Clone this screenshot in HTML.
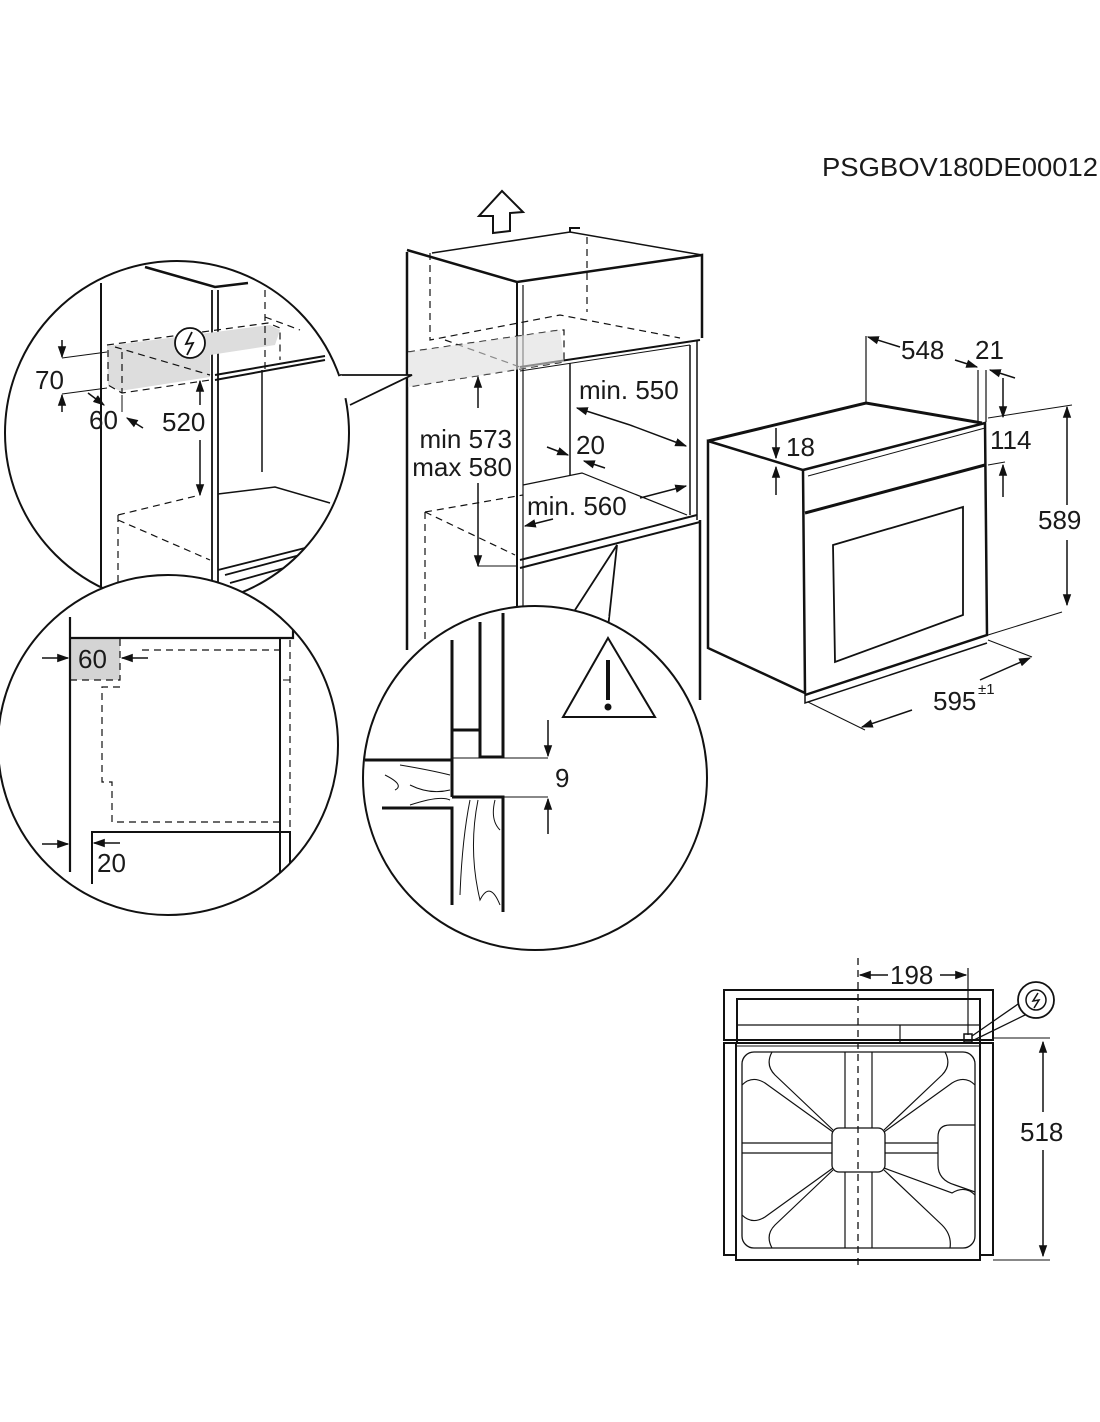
<!DOCTYPE html>
<html><head><meta charset="utf-8"><style>
html,body{margin:0;padding:0;background:#fff;}
svg{display:block;}
text{font-family:"Liberation Sans",sans-serif;fill:#1a1a1a;}
</style></head><body>
<svg width="1100" height="1422" viewBox="0 0 1100 1422" xmlns="http://www.w3.org/2000/svg">
<defs>
<marker id="ah" viewBox="0 0 10 10" refX="9" refY="5" markerWidth="8" markerHeight="8" orient="auto-start-reverse"><path d="M0,1.5 L10,5 L0,8.5z" fill="#111"/></marker>
<clipPath id="c1"><circle cx="177" cy="433" r="172"/></clipPath>
<clipPath id="c2"><circle cx="168" cy="745" r="170"/></clipPath>
<clipPath id="c3"><circle cx="535" cy="778" r="172"/></clipPath>
</defs>
<g stroke="#111" fill="none" stroke-width="1.5" font-size="26">
<text x="822" y="176" textLength="276" lengthAdjust="spacingAndGlyphs" stroke="none">PSGBOV180DE00012</text>
<!-- up arrow -->
<path d="M502,191 L523,212 L510,213 L510,231 L493,233 L493,216 L479,216z" stroke-width="2"/>
<!-- cabinet -->
<path d="M407,252 L407,650" stroke-width="2.5"/>
<path d="M407,250 L517,282 L702,255 L702,338" stroke-width="2.5"/>
<path d="M432,253 L570,232 L702,255" stroke-width="1.5"/>
<path d="M570,232 L570,228 L580,228" stroke-width="2"/>
<path d="M517,282 L517,650" stroke-width="2"/>
<path d="M523,285 L523,650" stroke-width="1.2"/>
<path d="M520,367 L700,340" stroke-width="2"/>
<path d="M520,371 L690,345" stroke-width="1"/>
<path d="M690,345 L690,515 M697,340 L697,520" stroke-width="1.5"/>
<path d="M570,363 L570,475" stroke-width="1.5"/>
<path d="M523,485 L582,473 L687,515" stroke-width="1.2"/>
<path d="M520,560 L697,515 M520,568 L700,522" stroke-width="2"/>
<path d="M700,520 L700,700" stroke-width="2.5"/>
<g stroke-dasharray="7,5" stroke-width="1.2">
<path d="M430,253 L430,340 L560,315 L680,338"/>
<path d="M587,237 L587,312"/>
<path d="M408,352 L560,330 L564,330 L564,362 L408,387"/>
<path d="M445,340 L520,367"/>
<path d="M425,512 L523,495"/>
<path d="M425,512 L425,640"/>
<path d="M425,512 L515,555"/>
</g>
<path d="M408,352 L560,330 L564,362 L408,387z" fill="#ddd" stroke="none" opacity="0.6"/>
<!-- cabinet dims -->
<line x1="478" y1="408" x2="478" y2="377" marker-end="url(#ah)"/>
<line x1="478" y1="483" x2="478" y2="566" marker-end="url(#ah)"/>
<path d="M478,566 L517,566" stroke-width="1"/>
<text x="512" y="448" text-anchor="end" stroke="none">min 573</text>
<text x="512" y="476" text-anchor="end" stroke="none">max 580</text>
<text x="579" y="399" stroke="none">min. 550</text>
<line x1="630" y1="425" x2="577" y2="408" marker-end="url(#ah)"/>
<line x1="630" y1="425" x2="686" y2="446" marker-end="url(#ah)"/>
<line x1="547" y1="447" x2="568" y2="455" marker-end="url(#ah)"/>
<line x1="605" y1="468" x2="584" y2="461" marker-end="url(#ah)"/>
<text x="576" y="454" stroke="none">20</text>
<text x="527" y="515" stroke="none">min. 560</text>
<line x1="640" y1="498" x2="686" y2="486" marker-end="url(#ah)"/>
<line x1="553" y1="519" x2="525" y2="526" marker-end="url(#ah)"/>

<!-- circle 1 -->
<path d="M340,375 L412,375 L350,405" fill="#fff" stroke-width="1.8"/>
<circle cx="177" cy="433" r="172" fill="#fff" stroke-width="2"/>
<path d="M340,376 L346,398" stroke="#fff" stroke-width="4"/>
<g clip-path="url(#c1)">
<path d="M101,283 L101,600" stroke-width="2"/>
<path d="M145,267 L215,287 L248,283" stroke-width="2.5"/>
<path d="M212,290 L212,600 M218,290 L218,600" stroke-width="1.8"/>
<path d="M215,375 L325,356 M215,380 L325,360" stroke-width="2"/>
<path d="M262,370 L262,472" stroke-width="1.5"/>
<path d="M218,494 L275,487 L330,503" stroke-width="1.5"/>
<path d="M218,570 L305,548 M225,575 L300,555 M230,583 L295,565" stroke-width="1.8"/>
<path d="M107,346 L108,385 L120,391 L210,377 L210,355 L275,345 L280,330 L270,325z" fill="#ddd" stroke="none"/>
<g stroke-dasharray="7,5" stroke-width="1.2">
<path d="M107,345 L268,323 L280,328 L280,360"/>
<path d="M108,350 L108,385 L122,393 L210,380"/>
<path d="M122,352 L122,393 M115,347 L210,375"/>
<path d="M265,290 L265,372 M265,317 L300,330"/>
<path d="M118,515 L118,600 M118,515 L200,495 M118,520 L210,560"/>
</g>
<circle cx="190" cy="343" r="15" fill="#fff" stroke-width="1.8"/>
<path d="M192,332 L186,344 L193,343 L187,355" stroke-width="1.8"/>
<line x1="62" y1="358" x2="107" y2="352" stroke-width="1"/>
<line x1="62" y1="394" x2="107" y2="388" stroke-width="1"/>
<line x1="62" y1="340" x2="62" y2="357" marker-end="url(#ah)"/>
<line x1="62" y1="412" x2="62" y2="395" marker-end="url(#ah)"/>
<text x="35" y="389" stroke="none">70</text>
<line x1="88" y1="393" x2="104" y2="405" marker-end="url(#ah)"/>
<line x1="143" y1="428" x2="127" y2="418" marker-end="url(#ah)"/>
<path d="M122,395 L122,412" stroke-width="1"/>
<text x="89" y="429" stroke="none">60</text>
<line x1="200" y1="405" x2="200" y2="381" marker-end="url(#ah)"/>
<line x1="200" y1="440" x2="200" y2="495" marker-end="url(#ah)"/>
<text x="162" y="431" stroke="none">520</text>
</g>

<!-- circle 2 -->
<circle cx="168" cy="745" r="170" fill="#fff" stroke-width="2"/>
<g clip-path="url(#c2)">
<rect x="70" y="637" width="50" height="43" fill="#d4d4d4" stroke="none"/>
<path d="M70,617 L70,872" stroke-width="2.2"/>
<path d="M70,638 L293,638 L293,617" stroke-width="2.2"/>
<path d="M280,638 L280,880" stroke-width="2"/>
<path d="M92,884 L92,832 L290,832 L290,870" stroke-width="2"/>
<g stroke-dasharray="7,5" stroke-width="1.2">
<path d="M70,680 L120,680 L120,637"/>
<path d="M142,650 L280,650"/>
<path d="M120,687 L102,687 L102,782 L112,782 L112,822 L280,822"/>
<path d="M290,640 L290,830"/>
</g>
<path d="M283,680 L290,680" stroke-width="1"/>
<line x1="42" y1="658" x2="68" y2="658" marker-end="url(#ah)"/>
<line x1="148" y1="658" x2="122" y2="658" marker-end="url(#ah)"/>
<text x="78" y="668" stroke="none">60</text>
<line x1="42" y1="844" x2="68" y2="844" marker-end="url(#ah)"/>
<line x1="120" y1="843" x2="94" y2="843" marker-end="url(#ah)"/>
<text x="97" y="872" stroke="none">20</text>
</g>

<!-- circle 3 -->
<path d="M575,610 L617,545 L608,628" fill="#fff" stroke-width="1.8"/>
<circle cx="535" cy="778" r="172" fill="#fff" stroke-width="2"/>
<path d="M580,607 L608,618" stroke="#fff" stroke-width="4"/>
<g clip-path="url(#c3)">
<path d="M365,760 L452,760 L452,640" stroke-width="3"/>
<path d="M452,730 L480,730 M480,622 L480,757 L503,757 L503,613" stroke-width="3"/>
<path d="M382,808 L452,808 L452,905 M452,797 L503,797 L503,912" stroke-width="3"/>
<path d="M452,760 L452,797" stroke-width="3"/>
<path d="M400,765 Q430,770 450,775 M385,775 Q405,785 395,790 M410,785 Q430,795 450,790 M410,805 Q440,795 450,800" stroke-width="1"/>
<path d="M470,800 Q462,840 460,895 M478,800 Q468,850 480,900 Q490,880 500,905 M495,800 Q490,820 500,830" stroke-width="1"/>
<line x1="453" y1="758" x2="548" y2="758" stroke-width="1"/>
<line x1="453" y1="797" x2="548" y2="797" stroke-width="1"/>
<line x1="548" y1="720" x2="548" y2="756" marker-end="url(#ah)"/>
<line x1="548" y1="834" x2="548" y2="799" marker-end="url(#ah)"/>
<text x="555" y="787" stroke="none">9</text>
<path d="M563,717 L608,638 L655,717z" stroke-width="2"/>
<path d="M608,660 L608,700" stroke-width="4"/>
<circle cx="608" cy="707" r="3.5" fill="#111" stroke="none"/>
</g>

<!-- oven -->
<path d="M708,441 L866,403 L982,423" stroke-width="3"/>
<path d="M708,441 L803,470 L805,693 L708,648z" stroke-width="2.5"/>
<path d="M803,470 L985,423 L987,635 L805,695" stroke-width="2.5"/>
<path d="M805,513 L985,465" stroke-width="3"/>
<path d="M808,476 L985,428" stroke-width="1"/>
<path d="M833,545 L963,507 L963,615 L835,662z" stroke-width="1.8"/>
<path d="M805,693 L805,703 L987,643" stroke-width="1.5"/>
<path d="M866,403 L866,336 M978,370 L978,422 M986,370 L986,422" stroke-width="1.2"/>
<line x1="900" y1="347" x2="868" y2="337" marker-end="url(#ah)"/>
<line x1="955" y1="360" x2="977" y2="367" marker-end="url(#ah)"/>
<text x="901" y="359" stroke="none">548</text>
<text x="975" y="359" stroke="none">21</text>
<line x1="1015" y1="378" x2="990" y2="370" marker-end="url(#ah)"/>
<line x1="1003" y1="378" x2="1003" y2="417" marker-end="url(#ah)"/>
<path d="M988,418 L1072,405" stroke-width="1"/>
<text x="990" y="449" stroke="none">114</text>
<path d="M988,465 L1005,462" stroke-width="1"/>
<line x1="1003" y1="497" x2="1003" y2="465" marker-end="url(#ah)"/>
<line x1="776" y1="428" x2="776" y2="458" marker-end="url(#ah)"/>
<line x1="776" y1="495" x2="776" y2="467" marker-end="url(#ah)"/>
<text x="786" y="456" stroke="none">18</text>
<line x1="1067" y1="505" x2="1067" y2="407" marker-end="url(#ah)"/>
<line x1="1067" y1="540" x2="1067" y2="605" marker-end="url(#ah)"/>
<path d="M988,635 L1062,612" stroke-width="1"/>
<text x="1038" y="529" stroke="none">589</text>
<path d="M808,702 L865,730 M988,640 L1032,657" stroke-width="1"/>
<line x1="912" y1="710" x2="862" y2="727" marker-end="url(#ah)"/>
<line x1="980" y1="680" x2="1030" y2="658" marker-end="url(#ah)"/>
<text x="933" y="710" stroke="none">595</text>
<text x="978" y="694" font-size="15" stroke="none">±1</text>

<!-- bottom drawing -->
<rect x="724" y="990" width="269" height="50" stroke-width="2"/>
<path d="M737,1045 L737,999 L980,999 L980,1045" stroke-width="2"/>
<path d="M737,1025 L980,1025 M900,1025 L900,1043 L966,1043" stroke-width="1.2"/>
<rect x="724" y="1043" width="13" height="212" stroke-width="2"/>
<rect x="980" y="1043" width="13" height="212" stroke-width="2"/>
<rect x="736" y="1043" width="244" height="217" fill="#fff" stroke-width="2"/>
<path d="M737,1046 L980,1046" stroke-width="1"/>
<rect x="742" y="1052" width="233" height="196" rx="12" stroke-width="1.3"/>
<path d="M845,1052 L845,1248 M872,1052 L872,1248" stroke-width="1.2"/>
<path d="M742,1143 L832,1143 M742,1153 L832,1153 M885,1143 L938,1143 M885,1153 L938,1153" stroke-width="1.2"/>
<rect x="832" y="1128" width="53" height="44" rx="7" fill="#fff" stroke-width="1.3"/>
<path d="M772,1052 Q765,1065 775,1075 L833,1130 M742,1085 Q752,1075 765,1083 L833,1132" stroke-width="1.2"/>
<path d="M945,1052 Q952,1065 942,1075 L884,1130 M975,1085 Q965,1075 952,1083 L884,1132" stroke-width="1.2"/>
<path d="M772,1248 Q765,1235 775,1225 L833,1170 M742,1215 Q752,1225 765,1217 L833,1168" stroke-width="1.2"/>
<path d="M950,1248 Q952,1235 942,1225 L884,1170 M975,1195 Q965,1185 952,1193 L884,1168" stroke-width="1.2"/>
<path d="M975,1125 L950,1125 Q938,1125 938,1137 L938,1165 Q938,1180 955,1185 L975,1192" stroke-width="1.2"/>
<path d="M858,958 L858,1270" stroke-dasharray="7,5" stroke-width="1.3"/>
<path d="M968,968 L968,1035" stroke-width="1.2"/>
<rect x="964" y="1034" width="8" height="8" stroke-width="1.5"/>
<line x1="888" y1="975" x2="860" y2="975" marker-end="url(#ah)"/>
<line x1="940" y1="975" x2="966" y2="975" marker-end="url(#ah)"/>
<text x="890" y="984" stroke="none">198</text>
<path d="M972,1036 L1021,1002 M974,1040 L1025,1015" stroke-width="1.3"/>
<circle cx="1036" cy="1000" r="18" fill="#fff" stroke-width="1.8"/>
<circle cx="1036" cy="1000" r="10" stroke-width="1.5"/>
<path d="M1038,993 L1033,1001 L1039,1000 L1034,1008" stroke-width="1.5"/>
<path d="M993,1038 L1050,1038 M993,1260 L1050,1260" stroke-width="1"/>
<line x1="1043" y1="1112" x2="1043" y2="1042" marker-end="url(#ah)"/>
<line x1="1043" y1="1150" x2="1043" y2="1256" marker-end="url(#ah)"/>
<text x="1020" y="1141" stroke="none">518</text>
</g>
</svg>
</body></html>
